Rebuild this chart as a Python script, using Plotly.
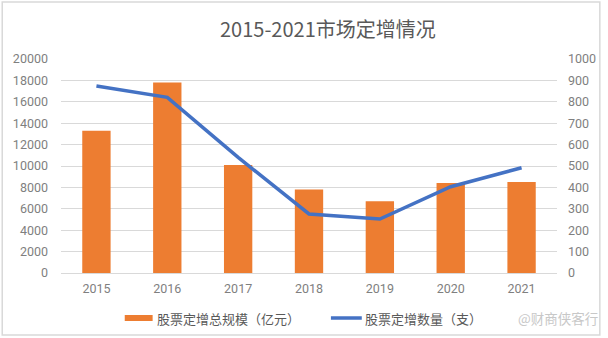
import plotly.graph_objects as go

# Chart data
years = ["2015", "2016", "2017", "2018", "2019", "2020", "2021"]
scale_yi = [13300, 17800, 10100, 7800, 6700, 8400, 8500]   # 股票定增总规模（亿元）
deal_count = [874, 821, 540, 276, 252, 403, 492]            # 股票定增数量（支）

left_ticks = list(range(0, 20001, 2000))
right_ticks = list(range(0, 1001, 100))

W, H = 608, 338
ML, MR, MT, MB = 61, 49, 59, 65
PW, PH = W - ML - MR, H - MT - MB


def px(x):
    return (x - ML) / PW


def py(y):
    return 1 - (y - MT) / PH


TICK = dict(family="Roboto, 'Noto Sans CJK SC', sans-serif", size=12.5, color="#7f7f7f")
TEXT_FONT = "'Noto Sans CJK SC', Roboto, sans-serif"

fig = go.Figure()
fig.add_trace(go.Bar(
    x=years, y=scale_yi, name="股票定增总规模（亿元）",
    marker=dict(color="#ED7D31", line=dict(width=0)),
    yaxis="y", showlegend=False,
))
fig.add_trace(go.Scatter(
    x=years, y=deal_count, name="股票定增数量（支）",
    mode="lines", line=dict(color="#4472C4", width=3.5),
    yaxis="y2", showlegend=False,
))

shapes = [
    # outer frame
    dict(type="rect", xref="paper", yref="paper",
         x0=px(2), x1=px(602), y0=py(2), y1=py(335),
         line=dict(color="#d9d9d9", width=1.5), fillcolor="rgba(0,0,0,0)", layer="below"),
    # legend keys
    dict(type="rect", xref="paper", yref="paper",
         x0=px(125), x1=px(153), y0=py(315), y1=py(321),
         line=dict(width=0), fillcolor="#ED7D31"),
    dict(type="line", xref="paper", yref="paper",
         x0=px(332), x1=px(363), y0=py(318), y1=py(318),
         line=dict(color="#4472C4", width=3.5)),
]

annotations = [
    dict(text="2015-2021市场定增情况", xref="paper", yref="paper",
         x=px(329), y=py(28), xanchor="center", yanchor="middle", showarrow=False,
         font=dict(family=TEXT_FONT, size=20, color="#595959")),
    dict(text="股票定增总规模（亿元）", xref="paper", yref="paper",
         x=px(155), y=py(318), xanchor="left", yanchor="middle", showarrow=False,
         font=dict(family=TEXT_FONT, size=13, color="#595959")),
    dict(text="股票定增数量（支）", xref="paper", yref="paper",
         x=px(364), y=py(318), xanchor="left", yanchor="middle", showarrow=False,
         font=dict(family=TEXT_FONT, size=13, color="#595959")),
    dict(text="@财商侠客行", xref="paper", yref="paper",
         x=px(518), y=py(318), xanchor="left", yanchor="middle", showarrow=False,
         font=dict(family=TEXT_FONT, size=13.5, color="#c8c8c8")),
]

fig.update_layout(
    width=W, height=H,
    margin=dict(l=ML, r=MR, t=MT, b=MB),
    paper_bgcolor="white", plot_bgcolor="white",
    bargap=0.6,
    showlegend=False,
    xaxis=dict(
        type="category", range=[-0.5, 6.5],
        showgrid=False, showline=True, linecolor="#d9d9d9", linewidth=1,
        ticks="", tickfont=TICK, ticklabelstandoff=4,
    ),
    yaxis=dict(
        range=[0, 20000], tickvals=left_ticks, ticktext=[str(v) for v in left_ticks],
        showgrid=True, gridcolor="#d9d9d9", gridwidth=1, zeroline=False,
        showline=False, ticks="", tickfont=TICK, ticklabelstandoff=12,
    ),
    yaxis2=dict(
        range=[0, 1000], tickvals=right_ticks, ticktext=[str(v) for v in right_ticks],
        overlaying="y", side="right", showgrid=False, zeroline=False,
        showline=False, ticks="", tickfont=TICK, ticklabelstandoff=10,
    ),
    shapes=shapes,
    annotations=annotations,
)

fig.write_html("out.html")
